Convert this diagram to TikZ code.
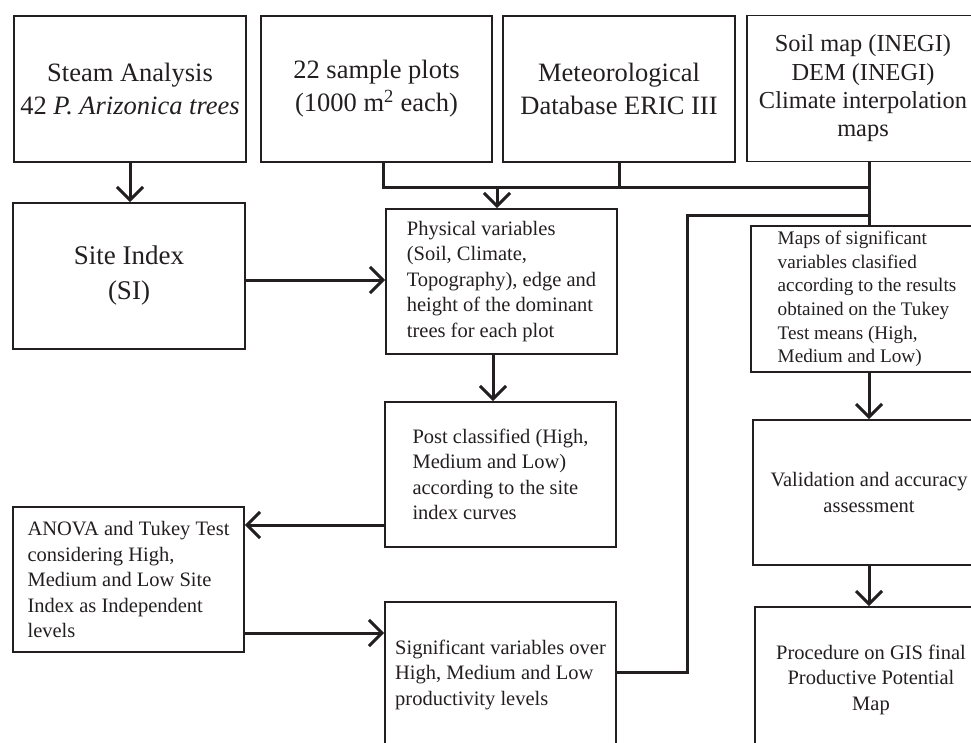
\documentclass[tikz,border=0pt]{standalone}
\usepackage{fontspec}
\setmainfont{Liberation Serif}
\usetikzlibrary{arrows.meta,calc}
\definecolor{ink}{RGB}{35,31,32}
\begin{document}
\begin{tikzpicture}[x=1pt,y=-1pt,
 box/.style={draw=ink, line width=1.8pt, inner sep=0pt, minimum width=232pt, minimum height=146pt, text=ink},
 big/.style={font=\fontsize{26.5}{33}\selectfont, align=center},
 small/.style={font=\fontsize{20.5}{25.5}\selectfont, align=left},
 conn/.style={line width=3pt, draw=ink},
 arr/.style={conn, -{Straight Barb[length=13pt,width=26pt]}}]
\useasboundingbox (0,0) rectangle (971,742);
\clip (0,0) rectangle (971,742);
\node[box,big] (b1) at (130,89) {Steam Analysis\\42 \textit{P. Arizonica trees}};
\node[box,big,minimum width=231pt] (b2) at (376.5,89) {22 sample plots\\(1000 m\textsuperscript{2} each)};
\node[box,big] (b3) at (619,89) {Meteorological\\Database ERIC III};
\node[box,font=\fontsize{24.4}{28.3}\selectfont,align=center] (b4) at (863,88.5) {Soil map (INEGI)\\DEM (INEGI)\\Climate interpolation\\maps};
\node[box,font=\fontsize{27}{35}\selectfont,align=center] (si) at (129,276) {Site Index\\(SI)};
\node[box,small,minimum width=231pt,minimum height=145pt] (phys) at (501.5,281.5) {Physical variables\\(Soil, Climate,\\Topography), edge and\\height of the dominant\\trees for each plot};
\node[box,small,minimum width=231pt,minimum height=145pt] (post) at (500.5,474.5) {Post classified (High,\\Medium and Low)\\according to the site\\index curves};
\node[box,small,minimum width=231pt,minimum height=145pt] (anova) at (128.5,579.5) {ANOVA and Tukey Test\\considering High,\\Medium and Low Site\\Index as Independent\\levels};
\node[box,small,minimum width=231pt,minimum height=145pt] (sig) at (500.5,674.5) {Significant variables over\\High, Medium and Low\\productivity levels};
\node[box,font=\fontsize{19.2}{23.6}\selectfont,align=left] (maps) at (867,299) {Maps of significant\\variables clasified\\according to the results\\obtained on the Tukey\\Test means (High,\\Medium and Low)};
\node[box,small,align=center,minimum height=145pt] (valid) at (869,492.5) {Validation and accuracy\\assessment};
\node[box,small,align=center,minimum height=145pt] (proc) at (871,679.5) {Procedure on GIS final\\Productive Potential\\Map};
% junctions
\coordinate (jl) at (383,187);
\coordinate (jr) at (869,187);
\coordinate (ja) at (497,187);
\coordinate (sa) at (245,280);
\coordinate (pd) at (493,0);
\coordinate (pa) at (0,525);
\coordinate (as) at (0,633);
\coordinate (sr) at (687,672);
\coordinate (st) at (687,215);
% connectors
\draw[arr] (b1.south) -- (b1.south |- si.north);
\draw[conn] (b2.south -| jl) -- (jl) -- (jr);
\draw[conn] (b3.south) -- (b3.south |- jr);
\draw[conn] (b4.south -| jr) -- (maps.north -| jr);
\draw[arr] (ja) -- (ja |- phys.north);
\draw[arr] (si.east |- sa) -- (phys.west |- sa);
\draw[arr] (phys.south -| pd) -- (post.north -| pd);
\draw[arr] (post.west |- pa) -- (anova.east |- pa);
\draw[arr] (anova.east |- as) -- (sig.west |- as);
\draw[conn] (sig.east |- sr) -- (sr) -- (st) -- (st -| jr);
\draw[arr] (maps.south -| jr) -- (valid.north -| jr);
\draw[arr] (valid.south -| jr) -- (proc.north -| jr);
\end{tikzpicture}
\end{document}
